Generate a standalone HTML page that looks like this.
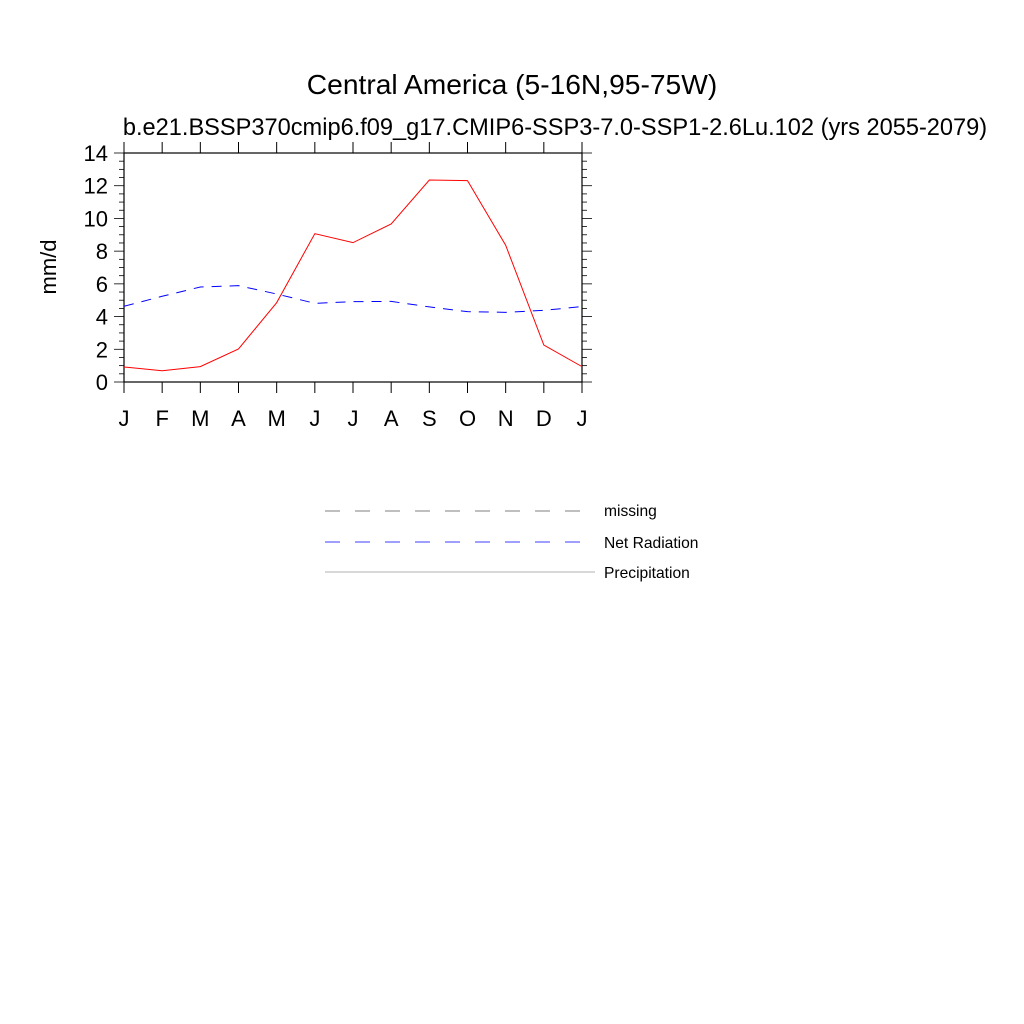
<!DOCTYPE html>
<html><head><meta charset="utf-8"><style>body{margin:0;background:#fff}svg{display:block;font-family:"Liberation Sans",sans-serif}</style></head>
<body>
<svg id="chart" width="1024" height="1024" viewBox="0 0 1024 1024">
<rect width="1024" height="1024" fill="#fff"/>
<text x="512" y="94" font-size="28.2" text-anchor="middle">Central America (5-16N,95-75W)</text>
<text x="555" y="135" font-size="23.6" text-anchor="middle">b.e21.BSSP370cmip6.f09_g17.CMIP6-SSP3-7.0-SSP1-2.6Lu.102 (yrs 2055-2079)</text>
<text transform="translate(56,267) rotate(-90)" font-size="22" text-anchor="middle">mm/d</text>
<g id="axes"></g>
<g id="series"></g>
<g>
<line x1="325" y1="511" x2="585" y2="511" stroke="#999" stroke-width="1.2" stroke-dasharray="15,15"/>
<text x="604" y="516" font-size="15.6">missing</text>
<line x1="325" y1="542" x2="585" y2="542" stroke="#00f" stroke-width="0.8" stroke-dasharray="15,15"/>
<text x="604" y="548" font-size="15.6">Net Radiation</text>
<line x1="325" y1="572" x2="595" y2="572" stroke="#999" stroke-width="0.8"/>
<text x="604" y="578" font-size="15.6">Precipitation</text>
</g>
</svg>
<script>
const months = ["J","F","M","A","M","J","J","A","S","O","N","D","J"];
const precipitation = [0.92,0.69,0.94,2.02,4.85,9.07,8.52,9.66,12.35,12.31,8.36,2.26,0.94];
const netRadiation = [4.63,5.24,5.81,5.89,5.38,4.81,4.91,4.93,4.59,4.30,4.26,4.38,4.61];
const yTicks = [0,2,4,6,8,10,12,14];

const NS="http://www.w3.org/2000/svg";
const L=124,R=582,T=153,B=382,yMax=14;
const xs=i=>L+(R-L)*i/(months.length-1);
const ys=v=>B-(B-T)*v/yMax;
const axes=document.getElementById('axes');
const series=document.getElementById('series');
function mk(tag,attrs,parent){const e=document.createElementNS(NS,tag);for(const k in attrs)e.setAttribute(k,attrs[k]);parent.appendChild(e);return e;}

const frame=mk('rect',{x:L,y:T,width:R-L,height:B-T,fill:'none',stroke:'#000','stroke-width':1.2},axes);



months.forEach((m,i)=>{
  const x=xs(i);
  const t1=mk('line',{x1:x,y1:B,x2:x,y2:B+11,stroke:'#000'},axes);
  
  
  const t2=mk('line',{x1:x,y1:T,x2:x,y2:T-11,stroke:'#000'},axes);
  
  
  const tx=mk('text',{x:x,y:426,'font-size':22,'text-anchor':'middle'},axes);
  tx.textContent=m;
  
  
});
for(let v=0;v<=yMax+0.001;v+=0.5){
  const y=ys(v);const major=Math.abs(v%2)<0.001;const len=major?10:5;
  const a=mk('line',{x1:L,y1:y,x2:L-len,y2:y,stroke:'#000','stroke-width':0.8},axes);
  
  
  const b=mk('line',{x1:R,y1:y,x2:R+len,y2:y,stroke:'#000','stroke-width':0.8},axes);
  
  
}
yTicks.forEach(v=>{
  const t=mk('text',{x:L-16,y:ys(v)+8,'font-size':22,'text-anchor':'end'},axes);
  t.textContent=v;
  
  
});
const pts=a=>a.map((v,i)=>xs(i)+','+ys(v)).join(' ');
const nr=mk('polyline',{points:pts(netRadiation),fill:'none',stroke:'#00f','stroke-width':1,'stroke-dasharray':'10,8'},series);


const pr=mk('polyline',{points:pts(precipitation),fill:'none',stroke:'#f00','stroke-width':1},series);


</script>
</body></html>
